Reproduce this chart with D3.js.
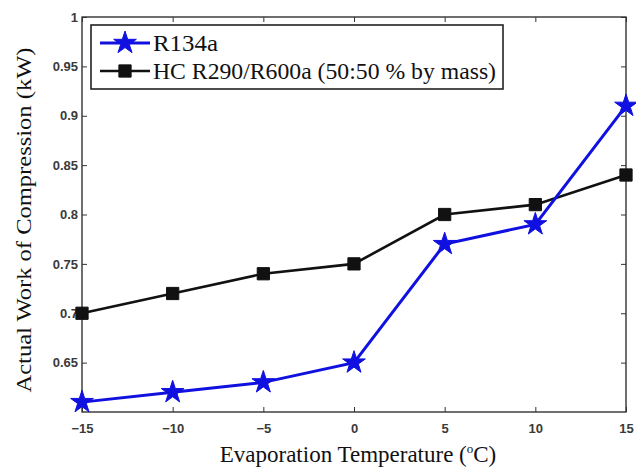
<!DOCTYPE html>
<html>
<head>
<meta charset="utf-8">
<script src="https://cdn.jsdelivr.net/npm/d3@7"></script>
<style>
  body { margin: 0; background: #fff; }
</style>
</head>
<body>
<div id="chart"></div>
<script>
const temps = [-15, -10, -5, 0, 5, 10, 15];
const r134a = [0.61, 0.62, 0.63, 0.65, 0.77, 0.79, 0.91];
const hcBlend = [0.70, 0.72, 0.74, 0.75, 0.80, 0.81, 0.84];
const xTicks = [-15, -10, -5, 0, 5, 10, 15];
const yTicks = [0.65, 0.7, 0.75, 0.8, 0.85, 0.9, 0.95, 1];
const seriesNames = ['R134a', 'HC R290/R600a (50:50 % by mass)'];

const width = 636, height = 470;
const margin = { top: 17, right: 10, bottom: 58, left: 82 };
const w = width - margin.left - margin.right;
const h = height - margin.top - margin.bottom;

const svg = d3.select('#chart').append('svg')
  .attr('width', width)
  .attr('height', height);

const chart = svg.append('g')
  .attr('transform', `translate(${margin.left},${margin.top})`);

const x = d3.scaleLinear().domain([-15, 15]).range([0, w]);
const y = d3.scaleLinear().domain([0.6, 1]).range([h, 0]);

// frame
chart.append('rect')
  .attr('width', w).attr('height', h)
  .attr('fill', 'none').attr('stroke', '#222').attr('stroke-width', 1.3);

const tickFont = "'Liberation Sans', Arial, sans-serif";

// bottom + left axes, ticks pointing in
const xAxisG = chart.append('g')
  .attr('transform', `translate(0,${h})`)
  .call(d3.axisBottom(x).tickValues(xTicks).tickSizeInner(-5).tickSizeOuter(0).tickPadding(12)
    .tickFormat(d => d < 0 ? '\u2212' + Math.abs(d) : d));
xAxisG.select('.domain').remove();

const yAxisG = chart.append('g')
  .call(d3.axisLeft(y).tickValues(yTicks).tickSizeInner(-5).tickSizeOuter(0).tickPadding(4)
    .tickFormat(d => d === 1 ? '1' : d3.format('.2~f')(d)));
yAxisG.select('.domain').remove();

[xAxisG, yAxisG].forEach(g => {
  g.selectAll('text')
    .attr('font-family', tickFont)
    .attr('font-size', 13)
    .attr('font-weight', 'bold')
    .attr('fill', '#3a3a3a');
  g.selectAll('.tick line').attr('stroke', '#333');
});

// top and right ticks
const topG = chart.append('g')
  .call(d3.axisTop(x).tickValues(xTicks).tickSizeInner(-5).tickSizeOuter(0).tickFormat(''));
topG.select('.domain').remove();
topG.selectAll('.tick line').attr('stroke', '#333');

const rightG = chart.append('g')
  .attr('transform', `translate(${w},0)`)
  .call(d3.axisRight(y).tickValues(yTicks).tickSizeInner(-5).tickSizeOuter(0).tickFormat(''));
rightG.select('.domain').remove();
rightG.selectAll('.tick line').attr('stroke', '#333');

const line = d3.line().x(d => x(d[0])).y(d => y(d[1]));
const dataA = temps.map((t, i) => [t, r134a[i]]);
const dataB = temps.map((t, i) => [t, hcBlend[i]]);

const star = d3.symbol().type(d3.symbolStar).size(160);
const square = d3.symbol().type(d3.symbolSquare).size(150);

// HC series
chart.append('path').datum(dataB)
  .attr('d', line).attr('fill', 'none')
  .attr('stroke', '#111').attr('stroke-width', 2.6);
chart.selectAll('.sq').data(dataB).enter().append('path')
  .attr('class', 'sq')
  .attr('transform', d => `translate(${x(d[0])},${y(d[1])})`)
  .attr('d', square)
  .attr('fill', '#111').attr('stroke', '#111').attr('stroke-width', 1);

// R134a series
chart.append('path').datum(dataA)
  .attr('d', line).attr('fill', 'none')
  .attr('stroke', '#1010e0').attr('stroke-width', 3);
chart.selectAll('.st').data(dataA).enter().append('path')
  .attr('class', 'st')
  .attr('transform', d => `translate(${x(d[0])},${y(d[1])})`)
  .attr('d', star)
  .attr('fill', '#1010e0').attr('stroke', '#1010e0').attr('stroke-width', 1);

// legend
const serif = "'Liberation Serif', 'Times New Roman', serif";
const leg = chart.append('g').attr('transform', 'translate(9,8)');
leg.append('rect')
  .attr('width', 412).attr('height', 64)
  .attr('fill', '#fff').attr('stroke', '#222').attr('stroke-width', 1.6);

const legItems = [
  { name: seriesNames[0], color: '#1010e0', sym: star, sw: 3 },
  { name: seriesNames[1], color: '#111', sym: square, sw: 2.6 }
];
legItems.forEach((d, i) => {
  const cy = 18 + i * 28;
  leg.append('line')
    .attr('x1', 9).attr('x2', 59).attr('y1', cy).attr('y2', cy)
    .attr('stroke', d.color).attr('stroke-width', d.sw);
  leg.append('path')
    .attr('transform', `translate(34,${cy})`)
    .attr('d', d.sym)
    .attr('fill', d.color).attr('stroke', d.color);
  leg.append('text')
    .attr('x', 62).attr('y', cy).attr('dy', '0.35em')
    .attr('font-family', serif).attr('font-size', 24)
    .attr('textLength', i === 0 ? 65 : 343).attr('lengthAdjust', 'spacingAndGlyphs')
    .attr('fill', '#111')
    .text(d.name);
});

// axis titles
const xt = svg.append('text')
  .attr('x', 358).attr('y', 462)
  .attr('text-anchor', 'middle')
  .attr('font-family', serif).attr('font-size', 23).attr('fill', '#111');
xt.append('tspan').text('Evaporation Temperature (');
xt.append('tspan').attr('dy', -9).attr('font-size', 13).text('o');
xt.append('tspan').attr('dy', 9).text('C)');

svg.append('text')
  .attr('transform', 'rotate(-90)')
  .attr('x', -220).attr('y', 31)
  .attr('text-anchor', 'middle')
  .attr('font-family', serif).attr('font-size', 20).attr('fill', '#111')
  .attr('textLength', 345).attr('lengthAdjust', 'spacingAndGlyphs')
  .text('Actual Work of Compression (kW)');
</script>
</body>
</html>
